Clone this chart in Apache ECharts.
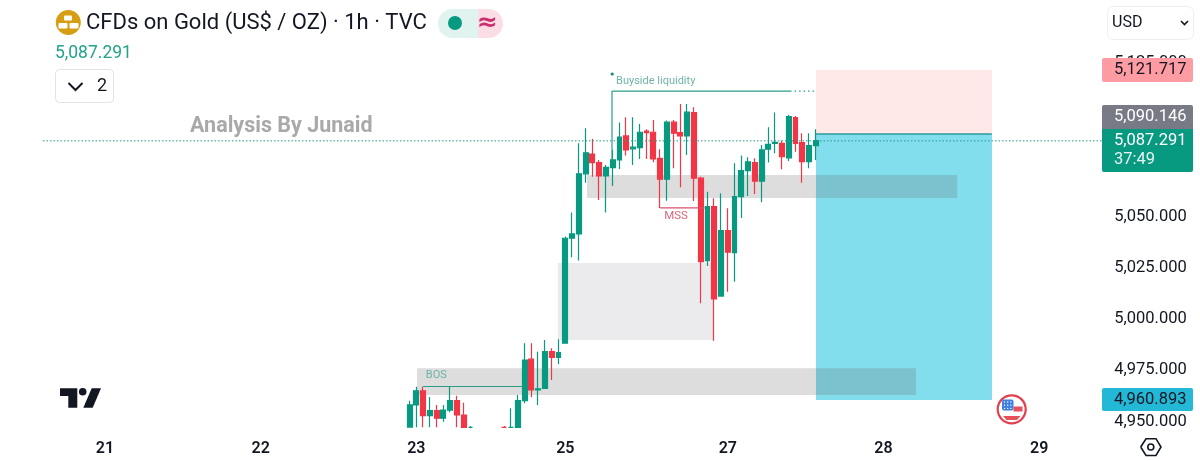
<!DOCTYPE html>
<html><head><meta charset="utf-8">
<style>html,body{margin:0;padding:0;background:#fff}#c{width:1200px;height:461px}</style>
<script src="https://cdn.jsdelivr.net/npm/echarts@6/dist/echarts.min.js"></script>
</head><body><div id="c"></div>
<script>
// ---- data (bars below the visible floor are cut at the floor) ----
const firstBarSlot = 60;
const slotCount = 164;
const opens = [4946.3,4957.1,4964.0,4951.9,4954.3,4950.6,4954.6,4959.2,4952.2,4946.2,null,null,null,null,4946.2,4946.2,4946.2,4959.2,4979.4,4964.4,4965.2,4983.1,4980.3,4987.2,5038.4,5040.5,5069.8,5079.5,5075.3,5068.8,5072.8,5076.6,5088.3,5082.0,5082.6,5090.7,5090.1,5077.4,5067.2,5095.0,5089.9,5088.3,5099.7,5067.7,5027.5,5053.8,5010.2,5042.1,5031.4,5058.7,5071.4,5075.3,5066.3,5081.8,5084.7,5084.7,5077.6,5097.2,5085.0,5075.8,5083.6];
const closes = [4957.1,4964.0,4951.9,4954.3,4950.6,4954.6,4959.2,4952.2,4946.2,4946.2,null,null,null,null,4946.2,4946.2,4959.2,4979.0,4964.4,4964.9,4983.1,4980.3,4982.6,5038.4,5040.5,5069.8,5080.1,5075.3,5068.8,5073.0,5076.6,5087.7,5081.5,5082.8,5090.1,5089.9,5077.1,5067.2,5095.0,5089.6,5088.3,5099.9,5067.7,5027.0,5053.8,5008.8,5042.1,5031.6,5058.7,5071.4,5075.6,5066.3,5081.5,5084.2,5085.2,5078.2,5097.7,5084.7,5075.8,5083.6,5086.0];
const lows = [4946.2,4946.2,4946.2,4946.2,4946.2,4948.9,4953.5,4946.2,4946.2,4946.2,null,null,null,null,4946.2,4946.2,4946.2,4957.9,4960.8,4957.1,4964.9,4969.3,4976.9,4987.2,5029.1,5027.5,5065.5,5068.4,5057.1,5050.9,5063.9,5072.2,5078.7,5074.1,5077.1,5077.1,5075.5,5053.2,5056.7,5072.5,5063.3,5079.0,5056.6,5006.7,5024.9,4988.4,5010.2,5012.3,5017.2,5048.3,5059.0,5060.0,5056.0,5075.3,5079.9,5072.0,5076.1,5080.6,5065.5,5072.5,5076.6];
const highs = [4959.2,4966.0,4966.0,4961.0,4957.1,4957.1,4966.0,4961.6,4958.2,4946.8,null,null,null,null,4946.8,4955.5,4962.0,4987.2,4987.2,4983.1,4988.8,4984.7,4989.1,5039.2,5050.9,5084.7,5092.0,5086.8,5076.6,5074.1,5081.5,5094.8,5097.4,5097.4,5094.1,5091.6,5096.1,5081.8,5095.8,5096.1,5103.9,5103.9,5102.3,5068.4,5061.1,5057.9,5060.3,5053.0,5075.0,5078.7,5077.9,5077.4,5083.9,5092.5,5099.7,5086.0,5098.5,5098.0,5089.6,5089.6,5091.6];
const priceTicks = [4950,4975,5000,5025,5050,5075,5100,5125];
const dayLabels = ['21','22','23','25','27','28','29'];
const daySlots = [15,38,61,83,107,130,153];
// drawing-tool anchors, in bar slots and prices
const zones = [
  [120.03,146.03,5120.5,5089.3],
  [120.03,146.03,5089.3,4959.5],
  [81.9,104.8,5026.3,4988.8],
  [86.2,140.9,5069.3,5058.0],
  [61.1,134.8,4975.0,4962.0]
];
const segments = [
  [89.9,5110.2,116.2,5110.2],
  [89.9,5110.2,89.9,5076.6],
  [116.2,5110.2,120,5110.2],
  [97,5053.2,103.6,5053.2],
  [62,4966.1,76.6,4966.1],
  [5.85,5085.9,162.3,5085.9],
  [120,5089.3,146,5089.3],
  [89.9,5118.5,89.95,5118.5]
];
const notes = [[62.4,4971.7],[90.5,5115.1],[97.6,5049.3]];
const noteTexts = ['BOS','Buyside liquidity','MSS'];
const titleText = 'CFDs on Gold (US$ / OZ) · 1h · TVC';
const lastPrice = '5,087.291';

// ---- styles ----
const TEAL='#089981', RED='#F23645', INK='#131722', FONT='Roboto';
const zoneColors=['#FFE8E8','#82DDEC','rgba(120,123,134,0.15)','rgba(100,100,100,0.22)','rgba(100,100,100,0.22)'];
const segStyles=[
 {stroke:'#2a9d8a',lineWidth:1.2},{stroke:'#2a9d8a',lineWidth:1.2},{stroke:'#2a9d8a',lineWidth:1.2,lineDash:[1.5,3]},
 {stroke:'#d9506a',lineWidth:1.2},{stroke:'#2a9d8a',lineWidth:1.2},
 {stroke:'#1f9d88',lineWidth:1,lineDash:[1.5,2]},{stroke:'#2a9aa0',lineWidth:1.5},
 {stroke:'#1f8d7a',lineWidth:3,lineCap:'round'}
];
const noteColors=['#6fb3a6','#6fb3a6','#d9687b'];
const noteSizes=[11,11,11.5];

const categories=[]; for(let i=0;i<slotCount;i++){const d=daySlots.indexOf(i);categories.push(d>=0?dayLabels[d]:'');}
const candles=categories.map((_,i)=>{const k=i-firstBarSlot;
  if(k<0||k>=opens.length||opens[k]==null) return ['-','-','-','-'];
  return [opens[k],closes[k],lows[k],highs[k]];});

const fmt=v=>v.toLocaleString('en-US',{minimumFractionDigits:3,maximumFractionDigits:3});
const G=[];
const Z=100;
const rect=(x,y,w,h,fill,r,stroke)=>G.push({type:'rect',z:Z,shape:{x,y,width:w,height:h,r:r||0},style:{fill:fill,stroke:stroke||null,lineWidth:stroke?1:0}});
const text=(x,y,t,size,fill,font)=>G.push({type:'text',z:Z+1,x,y,style:{text:t,font:font||(size+'px '+FONT),fill:fill,textVerticalAlign:'middle',textAlign:'left'}});
const poly=(pts,fill)=>G.push({type:'polygon',z:Z,shape:{points:pts},style:{fill:fill}});
const pline=(pts,stroke,w)=>G.push({type:'polyline',z:Z,shape:{points:pts},style:{stroke:stroke,lineWidth:w,fill:null}});
const circle=(cx,cy,r,fill,stroke,w)=>G.push({type:'circle',z:Z,shape:{cx,cy,r},style:{fill:fill,stroke:stroke||null,lineWidth:w||0}});

// header
circle(68.3,22.5,12.5,'#D69E12');
rect(64,15.5,8,5,'#fff',1); rect(58.5,23,9,5.5,'#fff',1); rect(69.5,23,9,5.5,'#fff',1);
text(86,23.5,titleText,22,INK);
rect(438,9,40,29,'#E0F3EF',[14.5,0,0,14.5]); rect(478,9,25,29,'#FBDDE6',[0,14.5,14.5,0]);
circle(455,23,7,TEAL);
text(477,23,'≈',0,'#CC2F6F','bold 25px "DejaVu Sans"');
text(55,53.5,lastPrice,17.5,'#22A38A');
rect(55.5,69.5,58,33,'#fff',4,'#e3e3e6');
pline([[68.5,83],[75.5,90],[82.5,83]],INK,2);
text(97,86,'2',18,INK);
text(190,127,'Analysis By Junaid',0,'#a9a9a9','bold 21.5px '+FONT);
// currency box
rect(1107.5,6.5,86,33,'#fff',6,'#eeeeee');
text(1112,23,'USD',16,INK);
pline([[1181,21],[1184.5,24.5],[1188,21]],INK,1.6);
// price tags
const tag=(y,h,fill,r)=>rect(1102,y,91,h,fill,r);
tag(58,24,'#FF9CA3',2); text(1114,70,'5,121.717',16.5,INK);
tag(105,24,'#787B86',[2,2,0,0]); text(1114,117,'5,090.146',16.5,'#fff');
tag(129,43,TEAL,[0,0,2,2]); text(1114,141,lastPrice,16.5,'#fff'); text(1114,160,'37:49',16.5,'#e7f5f2');
tag(388,23,'#22B8D6',2); text(1114,400,'4,960.893',16.5,INK);
// TradingView mark
poly([[60,388.3],[77.3,388.3],[77.3,407.7],[68.3,407.7],[68.3,396],[60,396]],INK);
circle(82.7,391.7,3.8,INK);
poly([[91.7,388.3],[101,388.3],[92.7,407.7],[83.3,407.7]],INK);
// flag
circle(1011.7,409.3,14,'#fff','#E2404F',2.2);
rect(1002,399.5,11.5,11,'#3F7FE0',2);
for(let a=0;a<3;a++)for(let b=0;b<3;b++)circle(1004.5+a*3.2,402+b*3.2,0.7,'#fff');
rect(1013.5,406.5,9,5,'#E8505B');
poly([[1003,416],[1020.5,416],[1017,420],[1006.5,420]],'#E8505B');
// settings
pline([[1140.7,447],[1146,438.7],[1156,438.7],[1161,447],[1156,455.5],[1146,455.5],[1140.7,447]],INK,1.6);
circle(1150.8,447,3,'#fff',INK,1.6);

const chart=echarts.init(document.getElementById('c'),null,{renderer:'canvas'});
chart.setOption({
  animation:false,backgroundColor:'#fff',
  grid:{left:0,top:0,width:1110.28,height:428,containLabel:false},
  xAxis:[
    {type:'category',data:categories,boundaryGap:true,axisLine:{show:false},axisTick:{show:false},splitLine:{show:false},
     axisLabel:{interval:0,margin:13,hideOverlap:false,fontFamily:FONT,fontSize:16,fontWeight:600,color:INK}},
    {type:'value',show:false,min:-0.5,max:slotCount-0.5,splitLine:{show:false}}
  ],
  yAxis:{type:'value',position:'right',min:4945.85,max:5154.6,axisLine:{show:false},axisTick:{show:false},splitLine:{show:false},
    axisLabel:{customValues:priceTicks,margin:4,verticalAlign:'top',lineHeight:4,fontFamily:FONT,fontSize:16.5,color:INK,formatter:fmt}},
  series:[
    {type:'custom',name:'zones',xAxisIndex:1,yAxisIndex:0,z:1,clip:false,silent:true,data:zones,
     encode:{x:[0,1],y:[2,3]},
     renderItem(p,api){const a=api.coord([api.value(0),api.value(2)]),b=api.coord([api.value(1),api.value(3)]);
       return {type:'rect',shape:{x:a[0],y:a[1],width:b[0]-a[0],height:b[1]-a[1]},style:{fill:zoneColors[p.dataIndex]}};}},
    {type:'candlestick',name:'XAUUSD',xAxisIndex:0,yAxisIndex:0,z:2,barWidth:5.4,data:candles,
     itemStyle:{color:TEAL,color0:RED,borderColor:TEAL,borderColor0:RED,borderWidth:1.2}},
    {type:'custom',name:'lines',xAxisIndex:1,yAxisIndex:0,z:3,clip:false,silent:true,data:segments,
     encode:{x:[0,2],y:[1,3]},
     renderItem(p,api){const a=api.coord([api.value(0),api.value(1)]),b=api.coord([api.value(2),api.value(3)]);
       return {type:'line',shape:{x1:a[0],y1:a[1],x2:b[0],y2:b[1]},style:Object.assign({fill:null},segStyles[p.dataIndex])};}},
    {type:'custom',name:'notes',xAxisIndex:1,yAxisIndex:0,z:4,clip:false,silent:true,data:notes,
     encode:{x:0,y:1},
     renderItem(p,api){const a=api.coord([api.value(0),api.value(1)]);
       return {type:'text',x:a[0],y:a[1],style:{text:noteTexts[p.dataIndex],font:noteSizes[p.dataIndex]+'px '+FONT,fill:noteColors[p.dataIndex],textAlign:'left',textVerticalAlign:'middle'}};}}
  ],
  graphic:G
});
</script></body></html>
